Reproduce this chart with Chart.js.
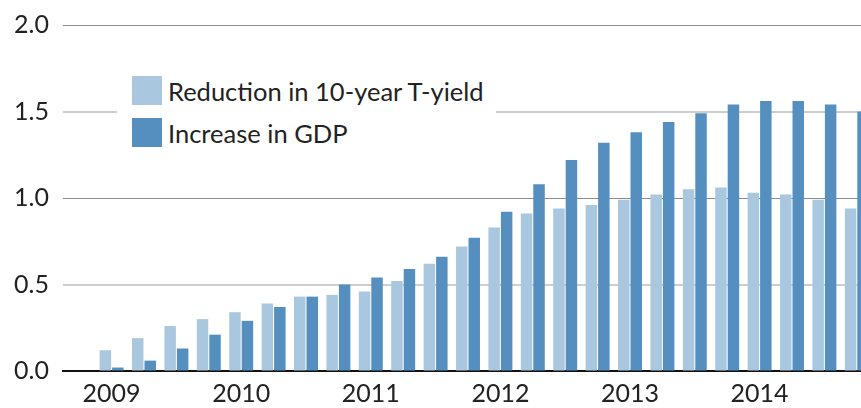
<!DOCTYPE html>
<html>
<head>
<meta charset="utf-8">
<script src="https://cdn.jsdelivr.net/npm/chart.js@4.4.1/dist/chart.umd.min.js"></script>
<style>
  html, body { margin: 0; padding: 0; background: #fff; overflow: hidden; }
  #wrap { position: relative; width: 861px; height: 408px; overflow: hidden; }
  #box { position: absolute; left: 0; top: 0; width: 874px; height: 408px; }
  #legend {
    position: absolute; left: 117px; top: 70px; width: 379px; height: 84px;
    background: #fff; font-family: Lato, "Liberation Sans", sans-serif; font-weight: 400;
    font-size: 25.5px; color: #222;
  }
  .item { position: absolute; left: 15px; height: 30px; line-height: 30px; white-space: nowrap; }
  .sw { display: inline-block; width: 30px; height: 29px; vertical-align: top; margin-right: 6px; }
</style>
</head>
<body>
<div id="wrap">
  <div id="box"><canvas id="visualChart"></canvas></div>
  <div id="legend"></div>
</div>
<script>
const quarters = ["2008Q4",
  "2009Q1", "2009Q2", "2009Q3", "2009Q4",
  "2010Q1", "2010Q2", "2010Q3", "2010Q4",
  "2011Q1", "2011Q2", "2011Q3", "2011Q4",
  "2012Q1", "2012Q2", "2012Q3", "2012Q4",
  "2013Q1", "2013Q2", "2013Q3", "2013Q4",
  "2014Q1", "2014Q2", "2014Q3", "2014Q4"];
const yieldReduction = [null, 0.12, 0.19, 0.26, 0.30, 0.34, 0.39, 0.43, 0.44, 0.46, 0.52, 0.62,
  0.72, 0.83, 0.91, 0.94, 0.96, 0.99, 1.02, 1.05, 1.06, 1.03, 1.02, 0.99, 0.94];
const gdpIncrease = [null, 0.02, 0.06, 0.13, 0.21, 0.29, 0.37, 0.43, 0.50, 0.54, 0.59, 0.66,
  0.77, 0.92, 1.08, 1.22, 1.32, 1.38, 1.44, 1.49, 1.54, 1.56, 1.56, 1.54, 1.50];
const yTicks = [0, 0.5, 1.0, 1.5, 2.0];

const lightBlue = '#a9c8e0';
const darkBlue = '#558fbf';
const fontName = 'Lato, "Liberation Sans", sans-serif';

const chartBlock = document.querySelector('#visualChart').getContext('2d');

const chart = new Chart(chartBlock, {
    type: 'bar',
    data: {
        labels: quarters,
        datasets: [
            {
                label: "Reduction in 10-year T-yield",
                data: yieldReduction,
                backgroundColor: lightBlue,
                categoryPercentage: 0.77,
                barPercentage: 0.92,
            },
            {
                label: "Increase in GDP",
                data: gdpIncrease,
                backgroundColor: darkBlue,
                categoryPercentage: 0.77,
                barPercentage: 0.92,
            }
        ]
    },
    options: {
        responsive: true,
        maintainAspectRatio: false,
        animation: false,
        layout: { padding: { top: 25, right: 1 } },
        plugins: { legend: { display: false }, tooltip: { enabled: false } },
        scales: {
            x: {
                grid: { display: false, drawTicks: false },
                border: { color: '#111', width: 2 },
                ticks: {
                    autoSkip: false, maxRotation: 0, padding: 8,
                    color: '#222',
                    font: { family: fontName, size: 25, weight: 400 },
                    callback: (v, i) => quarters[i].endsWith('Q1') ? quarters[i].slice(0, 4) : ''
                },
                afterFit: s => { s.height = 37; }
            },
            y: {
                min: 0, max: 2,
                afterBuildTicks: s => { s.ticks = yTicks.map(v => ({ value: v })); },
                grid: {
                    drawTicks: false,
                    color: c => (c.tick && c.tick.value % 1 === 0) ? '#8c8c8c' : '#cfcfcf',
                    lineWidth: c => (c.tick && c.tick.value % 1 === 0) ? 1 : 2
                },
                border: { display: false },
                ticks: {
                    padding: 14, color: '#222',
                    font: { family: fontName, size: 25, weight: 400 },
                    callback: v => v.toFixed(1)
                },
                // fixed axis width; drop the label padding so the plot starts at the top line
                afterFit: s => { s.width = 63; s.paddingTop = 0; s.paddingBottom = 0; }
            }
        }
    }
});

// legend drawn over the plot, as in the original
const legend = document.querySelector('#legend');
chart.data.datasets.forEach((ds, i) => {
    const item = document.createElement('div');
    item.className = 'item';
    item.style.top = (6 + i * 42) + 'px';
    item.innerHTML = `<span class="sw" style="background:${ds.backgroundColor}"></span>${ds.label}`;
    legend.appendChild(item);
});
</script>
</body>
</html>
